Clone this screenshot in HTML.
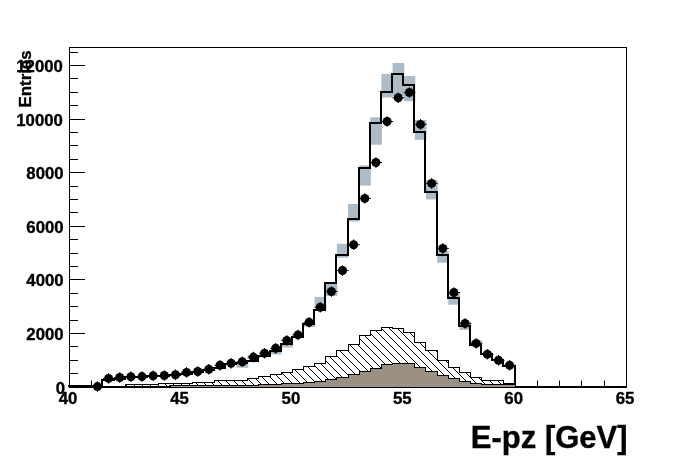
<!DOCTYPE html>
<html><head><meta charset="utf-8"><title>E-pz</title>
<style>
html,body{margin:0;padding:0;background:#fff;}
body{width:696px;height:472px;overflow:hidden;}
svg{display:block;}
text{font-family:"Liberation Sans",Arial,Helvetica,sans-serif;font-weight:bold;fill:#000;stroke:#000;stroke-width:0.35px;}
</style></head><body>
<svg width="696" height="472" viewBox="0 0 696 472">
<defs>
<pattern id="hatch" x="5" y="0" width="8" height="8" patternUnits="userSpaceOnUse">
<path d="M-1 -1 L9 9 M-9 -1 L1 9 M7 -1 L17 9" stroke="#000" stroke-width="1" fill="none" shape-rendering="crispEdges"/>
</pattern>
</defs>
<rect x="0" y="0" width="696" height="472" fill="#fff"/>

<rect x="69.5" y="47.5" width="557" height="339" fill="none" stroke="#000" stroke-width="1"/>
<path d="M69.5 387.50 H85.00 M69.5 373.50 H78.00 M69.5 360.50 H78.00 M69.5 346.50 H78.00 M69.5 333.50 H85.00 M69.5 320.50 H78.00 M69.5 306.50 H78.00 M69.5 293.50 H78.00 M69.5 279.50 H85.00 M69.5 266.50 H78.00 M69.5 253.50 H78.00 M69.5 239.50 H78.00 M69.5 226.50 H85.00 M69.5 212.50 H78.00 M69.5 199.50 H78.00 M69.5 186.50 H78.00 M69.5 172.50 H85.00 M69.5 159.50 H78.00 M69.5 145.50 H78.00 M69.5 132.50 H78.00 M69.5 119.50 H85.00 M69.5 105.50 H78.00 M69.5 92.50 H78.00 M69.5 78.50 H78.00 M69.5 65.50 H85.00 M69.5 52.50 H78.00" stroke="#000" stroke-width="1" fill="none"/>
<path d="M91.5 386.5 V380.5 M537.5 386.5 V380.5 M559.5 386.5 V380.5 M581.5 386.5 V380.5 M604.5 386.5 V380.5" stroke="#000" stroke-width="1" fill="none"/>
<rect x="236.60" y="363.00" width="11.64" height="4.75" fill="#aebcc7"/>
<rect x="247.74" y="355.00" width="11.64" height="4.00" fill="#aebcc7"/>
<rect x="270.02" y="351.00" width="11.64" height="3.50" fill="#aebcc7"/>
<rect x="281.16" y="344.00" width="11.64" height="3.50" fill="#aebcc7"/>
<rect x="303.44" y="324.00" width="11.64" height="3.00" fill="#aebcc7"/>
<rect x="314.58" y="297.00" width="11.64" height="13.00" fill="#aebcc7"/>
<rect x="325.72" y="283.75" width="11.64" height="12.25" fill="#aebcc7"/>
<rect x="336.86" y="243.75" width="11.64" height="14.00" fill="#aebcc7"/>
<rect x="348.00" y="204.00" width="11.64" height="17.50" fill="#aebcc7"/>
<rect x="359.14" y="165.40" width="11.64" height="20.20" fill="#aebcc7"/>
<rect x="370.28" y="117.25" width="11.64" height="27.50" fill="#aebcc7"/>
<rect x="381.42" y="74.00" width="11.64" height="23.50" fill="#aebcc7"/>
<rect x="392.56" y="63.00" width="11.64" height="33.00" fill="#aebcc7"/>
<rect x="403.70" y="76.00" width="11.64" height="25.25" fill="#aebcc7"/>
<rect x="414.84" y="120.00" width="11.64" height="19.75" fill="#aebcc7"/>
<rect x="425.98" y="180.00" width="11.64" height="19.40" fill="#aebcc7"/>
<rect x="437.12" y="251.00" width="11.64" height="11.75" fill="#aebcc7"/>
<rect x="448.26" y="293.00" width="11.64" height="11.75" fill="#aebcc7"/>
<rect x="459.40" y="322.00" width="11.64" height="8.00" fill="#aebcc7"/>
<rect x="470.54" y="340.60" width="11.64" height="5.40" fill="#aebcc7"/>
<path d="M69.00 387.00 L69.00 386.00 L80.00 386.00 L80.00 386.00 L91.00 386.00 L91.00 386.00 L102.00 386.00 L102.00 380.00 L114.00 380.00 L114.00 379.00 L125.00 379.00 L125.00 377.00 L136.00 377.00 L136.00 377.00 L147.00 377.00 L147.00 376.00 L158.00 376.00 L158.00 376.00 L169.00 376.00 L169.00 375.00 L180.00 375.00 L180.00 374.00 L192.00 374.00 L192.00 372.00 L203.00 372.00 L203.00 370.00 L214.00 370.00 L214.00 368.00 L225.00 368.00 L225.00 364.00 L236.00 364.00 L236.00 363.00 L247.00 363.00 L247.00 361.00 L258.00 361.00 L258.00 356.00 L270.00 356.00 L270.00 351.00 L281.00 351.00 L281.00 344.00 L292.00 344.00 L292.00 337.00 L303.00 337.00 L303.00 324.00 L314.00 324.00 L314.00 310.00 L325.00 310.00 L325.00 283.00 L336.00 283.00 L336.00 255.00 L348.00 255.00 L348.00 219.00 L359.00 219.00 L359.00 168.00 L370.00 168.00 L370.00 123.00 L381.00 123.00 L381.00 92.00 L392.00 92.00 L392.00 74.00 L403.00 74.00 L403.00 85.00 L414.00 85.00 L414.00 132.00 L425.00 132.00 L425.00 192.00 L437.00 192.00 L437.00 255.00 L448.00 255.00 L448.00 298.00 L459.00 298.00 L459.00 326.00 L470.00 326.00 L470.00 345.00 L481.00 345.00 L481.00 354.00 L492.00 354.00 L492.00 360.00 L503.00 360.00 L503.00 366.00 L515.00 366.00 L515.00 387.00" fill="none" stroke="#000" stroke-width="2" stroke-linejoin="miter" shape-rendering="crispEdges"/>
<path d="M125.5 386.5 L125.5 384.5 L136.5 384.5 L136.5 384.5 L147.5 384.5 L147.5 384.5 L158.5 384.5 L158.5 383.5 L169.5 383.5 L169.5 383.5 L180.5 383.5 L180.5 383.5 L192.5 383.5 L192.5 382.5 L203.5 382.5 L203.5 382.5 L214.5 382.5 L214.5 380.5 L225.5 380.5 L225.5 380.5 L236.5 380.5 L236.5 380.5 L247.5 380.5 L247.5 378.5 L258.5 378.5 L258.5 376.5 L270.5 376.5 L270.5 374.5 L281.5 374.5 L281.5 372.5 L292.5 372.5 L292.5 369.5 L303.5 369.5 L303.5 366.5 L314.5 366.5 L314.5 363.5 L325.5 363.5 L325.5 356.5 L336.5 356.5 L336.5 350.5 L348.5 350.5 L348.5 344.5 L359.5 344.5 L359.5 335.5 L370.5 335.5 L370.5 330.5 L381.5 330.5 L381.5 327.5 L392.5 327.5 L392.5 328.5 L403.5 328.5 L403.5 332.5 L414.5 332.5 L414.5 342.5 L425.5 342.5 L425.5 350.5 L437.5 350.5 L437.5 360.5 L448.5 360.5 L448.5 367.5 L459.5 367.5 L459.5 372.5 L470.5 372.5 L470.5 377.5 L481.5 377.5 L481.5 380.5 L492.5 380.5 L492.5 380.5 L503.5 380.5 L503.5 383.5 L515.5 383.5 L515.5 386.5 Z" fill="#fff" stroke="none"/>
<path d="M125.5 386.5 L125.5 384.5 L136.5 384.5 L136.5 384.5 L147.5 384.5 L147.5 384.5 L158.5 384.5 L158.5 383.5 L169.5 383.5 L169.5 383.5 L180.5 383.5 L180.5 383.5 L192.5 383.5 L192.5 382.5 L203.5 382.5 L203.5 382.5 L214.5 382.5 L214.5 380.5 L225.5 380.5 L225.5 380.5 L236.5 380.5 L236.5 380.5 L247.5 380.5 L247.5 378.5 L258.5 378.5 L258.5 376.5 L270.5 376.5 L270.5 374.5 L281.5 374.5 L281.5 372.5 L292.5 372.5 L292.5 369.5 L303.5 369.5 L303.5 366.5 L314.5 366.5 L314.5 363.5 L325.5 363.5 L325.5 356.5 L336.5 356.5 L336.5 350.5 L348.5 350.5 L348.5 344.5 L359.5 344.5 L359.5 335.5 L370.5 335.5 L370.5 330.5 L381.5 330.5 L381.5 327.5 L392.5 327.5 L392.5 328.5 L403.5 328.5 L403.5 332.5 L414.5 332.5 L414.5 342.5 L425.5 342.5 L425.5 350.5 L437.5 350.5 L437.5 360.5 L448.5 360.5 L448.5 367.5 L459.5 367.5 L459.5 372.5 L470.5 372.5 L470.5 377.5 L481.5 377.5 L481.5 380.5 L492.5 380.5 L492.5 380.5 L503.5 380.5 L503.5 383.5 L515.5 383.5 L515.5 386.5 Z" fill="url(#hatch)" stroke="#000" stroke-width="1" shape-rendering="crispEdges"/>
<path d="M169.5 387.0 L169.5 385.5 L180.5 385.5 L180.5 385.5 L192.5 385.5 L192.5 385.5 L203.5 385.5 L203.5 385.5 L214.5 385.5 L214.5 385.5 L225.5 385.5 L225.5 385.5 L236.5 385.5 L236.5 385.5 L247.5 385.5 L247.5 385.5 L258.5 385.5 L258.5 384.5 L270.5 384.5 L270.5 384.5 L281.5 384.5 L281.5 383.5 L292.5 383.5 L292.5 383.5 L303.5 383.5 L303.5 382.5 L314.5 382.5 L314.5 381.5 L325.5 381.5 L325.5 379.5 L336.5 379.5 L336.5 377.5 L348.5 377.5 L348.5 374.5 L359.5 374.5 L359.5 371.5 L370.5 371.5 L370.5 368.5 L381.5 368.5 L381.5 364.5 L392.5 364.5 L392.5 363.5 L403.5 363.5 L403.5 363.5 L414.5 363.5 L414.5 367.5 L425.5 367.5 L425.5 371.5 L437.5 371.5 L437.5 375.5 L448.5 375.5 L448.5 378.5 L459.5 378.5 L459.5 381.5 L470.5 381.5 L470.5 383.5 L481.5 383.5 L481.5 384.5 L492.5 384.5 L492.5 384.5 L503.5 384.5 L503.5 384.5 L515.5 384.5 L515.5 387.0 Z" fill="#9b9084" stroke="none"/>
<path d="M169.5 387.0 L169.5 385.5 L180.5 385.5 L180.5 385.5 L192.5 385.5 L192.5 385.5 L203.5 385.5 L203.5 385.5 L214.5 385.5 L214.5 385.5 L225.5 385.5 L225.5 385.5 L236.5 385.5 L236.5 385.5 L247.5 385.5 L247.5 385.5 L258.5 385.5 L258.5 384.5 L270.5 384.5 L270.5 384.5 L281.5 384.5 L281.5 383.5 L292.5 383.5 L292.5 383.5 L303.5 383.5 L303.5 382.5 L314.5 382.5 L314.5 381.5 L325.5 381.5 L325.5 379.5 L336.5 379.5 L336.5 377.5 L348.5 377.5 L348.5 374.5 L359.5 374.5 L359.5 371.5 L370.5 371.5 L370.5 368.5 L381.5 368.5 L381.5 364.5 L392.5 364.5 L392.5 363.5 L403.5 363.5 L403.5 363.5 L414.5 363.5 L414.5 367.5 L425.5 367.5 L425.5 371.5 L437.5 371.5 L437.5 375.5 L448.5 375.5 L448.5 378.5 L459.5 378.5 L459.5 381.5 L470.5 381.5 L470.5 383.5 L481.5 383.5 L481.5 384.5 L492.5 384.5 L492.5 384.5 L503.5 384.5 L503.5 384.5 L515.5 384.5 L515.5 387.0" fill="none" stroke="#000" stroke-width="1" shape-rendering="crispEdges"/>
<rect x="69" y="387" width="558" height="1" fill="#000"/>
<rect x="69" y="386" width="102" height="1" fill="#000"/>
<rect x="515" y="386" width="112" height="1" fill="#000"/>
<path d="M91.88 386.60 H103.52" stroke="#000" stroke-width="1"/>
<path d="M97.45 381.30 V391.90" stroke="#000" stroke-width="1"/>
<circle cx="97.45" cy="386.60" r="4.5" fill="#000"/>
<path d="M103.02 378.40 H114.66" stroke="#000" stroke-width="1"/>
<path d="M108.59 373.10 V383.70" stroke="#000" stroke-width="1"/>
<circle cx="108.59" cy="378.40" r="4.5" fill="#000"/>
<path d="M114.16 377.55 H125.80" stroke="#000" stroke-width="1"/>
<path d="M119.73 372.25 V382.85" stroke="#000" stroke-width="1"/>
<circle cx="119.73" cy="377.55" r="4.5" fill="#000"/>
<path d="M125.30 376.70 H136.94" stroke="#000" stroke-width="1"/>
<path d="M130.87 371.40 V382.00" stroke="#000" stroke-width="1"/>
<circle cx="130.87" cy="376.70" r="4.5" fill="#000"/>
<path d="M136.44 376.60 H148.08" stroke="#000" stroke-width="1"/>
<path d="M142.01 371.30 V381.90" stroke="#000" stroke-width="1"/>
<circle cx="142.01" cy="376.60" r="4.5" fill="#000"/>
<path d="M147.58 375.70 H159.22" stroke="#000" stroke-width="1"/>
<path d="M153.15 370.40 V381.00" stroke="#000" stroke-width="1"/>
<circle cx="153.15" cy="375.70" r="4.5" fill="#000"/>
<path d="M158.72 375.50 H170.36" stroke="#000" stroke-width="1"/>
<path d="M164.29 370.20 V380.80" stroke="#000" stroke-width="1"/>
<circle cx="164.29" cy="375.50" r="4.5" fill="#000"/>
<path d="M169.86 374.70 H181.50" stroke="#000" stroke-width="1"/>
<path d="M175.43 369.40 V380.00" stroke="#000" stroke-width="1"/>
<circle cx="175.43" cy="374.70" r="4.5" fill="#000"/>
<path d="M181.00 372.40 H192.64" stroke="#000" stroke-width="1"/>
<path d="M186.57 367.10 V377.70" stroke="#000" stroke-width="1"/>
<circle cx="186.57" cy="372.40" r="4.5" fill="#000"/>
<path d="M192.14 371.50 H203.78" stroke="#000" stroke-width="1"/>
<path d="M197.71 366.20 V376.80" stroke="#000" stroke-width="1"/>
<circle cx="197.71" cy="371.50" r="4.5" fill="#000"/>
<path d="M203.28 369.30 H214.92" stroke="#000" stroke-width="1"/>
<path d="M208.85 364.00 V374.60" stroke="#000" stroke-width="1"/>
<circle cx="208.85" cy="369.30" r="4.5" fill="#000"/>
<path d="M214.42 365.30 H226.06" stroke="#000" stroke-width="1"/>
<path d="M219.99 360.00 V370.60" stroke="#000" stroke-width="1"/>
<circle cx="219.99" cy="365.30" r="4.5" fill="#000"/>
<path d="M225.56 363.30 H237.20" stroke="#000" stroke-width="1"/>
<path d="M231.13 358.00 V368.60" stroke="#000" stroke-width="1"/>
<circle cx="231.13" cy="363.30" r="4.5" fill="#000"/>
<path d="M236.70 361.80 H248.34" stroke="#000" stroke-width="1"/>
<path d="M242.27 356.50 V367.10" stroke="#000" stroke-width="1"/>
<circle cx="242.27" cy="361.80" r="4.5" fill="#000"/>
<path d="M247.84 357.10 H259.48" stroke="#000" stroke-width="1"/>
<path d="M253.41 351.80 V362.40" stroke="#000" stroke-width="1"/>
<circle cx="253.41" cy="357.10" r="4.5" fill="#000"/>
<path d="M258.98 353.30 H270.62" stroke="#000" stroke-width="1"/>
<path d="M264.55 348.00 V358.60" stroke="#000" stroke-width="1"/>
<circle cx="264.55" cy="353.30" r="4.5" fill="#000"/>
<path d="M270.12 348.30 H281.76" stroke="#000" stroke-width="1"/>
<path d="M275.69 343.00 V353.60" stroke="#000" stroke-width="1"/>
<circle cx="275.69" cy="348.30" r="4.5" fill="#000"/>
<path d="M281.26 340.40 H292.90" stroke="#000" stroke-width="1"/>
<path d="M286.83 335.10 V345.70" stroke="#000" stroke-width="1"/>
<circle cx="286.83" cy="340.40" r="4.5" fill="#000"/>
<path d="M292.40 334.90 H304.04" stroke="#000" stroke-width="1"/>
<path d="M297.97 329.60 V340.20" stroke="#000" stroke-width="1"/>
<circle cx="297.97" cy="334.90" r="4.5" fill="#000"/>
<path d="M303.54 322.30 H315.18" stroke="#000" stroke-width="1"/>
<path d="M309.11 317.00 V327.60" stroke="#000" stroke-width="1"/>
<circle cx="309.11" cy="322.30" r="4.5" fill="#000"/>
<path d="M314.68 307.20 H326.32" stroke="#000" stroke-width="1"/>
<path d="M320.25 301.90 V312.50" stroke="#000" stroke-width="1"/>
<circle cx="320.25" cy="307.20" r="4.5" fill="#000"/>
<path d="M325.82 291.55 H337.46" stroke="#000" stroke-width="1"/>
<path d="M331.39 286.25 V296.85" stroke="#000" stroke-width="1"/>
<circle cx="331.39" cy="291.55" r="4.5" fill="#000"/>
<path d="M336.96 270.55 H348.60" stroke="#000" stroke-width="1"/>
<path d="M342.53 265.25 V275.85" stroke="#000" stroke-width="1"/>
<circle cx="342.53" cy="270.55" r="4.5" fill="#000"/>
<path d="M348.10 244.70 H359.74" stroke="#000" stroke-width="1"/>
<path d="M353.67 239.40 V250.00" stroke="#000" stroke-width="1"/>
<circle cx="353.67" cy="244.70" r="4.5" fill="#000"/>
<path d="M359.24 198.40 H370.88" stroke="#000" stroke-width="1"/>
<path d="M364.81 193.10 V203.70" stroke="#000" stroke-width="1"/>
<circle cx="364.81" cy="198.40" r="4.5" fill="#000"/>
<path d="M370.38 162.55 H382.02" stroke="#000" stroke-width="1"/>
<path d="M375.95 157.25 V167.85" stroke="#000" stroke-width="1"/>
<circle cx="375.95" cy="162.55" r="4.5" fill="#000"/>
<path d="M381.52 121.55 H393.16" stroke="#000" stroke-width="1"/>
<path d="M387.09 116.25 V126.85" stroke="#000" stroke-width="1"/>
<circle cx="387.09" cy="121.55" r="4.5" fill="#000"/>
<path d="M392.66 97.80 H404.30" stroke="#000" stroke-width="1"/>
<path d="M398.23 92.50 V103.10" stroke="#000" stroke-width="1"/>
<circle cx="398.23" cy="97.80" r="4.5" fill="#000"/>
<path d="M403.80 92.55 H415.44" stroke="#000" stroke-width="1"/>
<path d="M409.37 87.25 V97.85" stroke="#000" stroke-width="1"/>
<circle cx="409.37" cy="92.55" r="4.5" fill="#000"/>
<path d="M414.94 124.40 H426.58" stroke="#000" stroke-width="1"/>
<path d="M420.51 119.10 V129.70" stroke="#000" stroke-width="1"/>
<circle cx="420.51" cy="124.40" r="4.5" fill="#000"/>
<path d="M426.08 183.40 H437.72" stroke="#000" stroke-width="1"/>
<path d="M431.65 178.10 V188.70" stroke="#000" stroke-width="1"/>
<circle cx="431.65" cy="183.40" r="4.5" fill="#000"/>
<path d="M437.22 248.40 H448.86" stroke="#000" stroke-width="1"/>
<path d="M442.79 243.10 V253.70" stroke="#000" stroke-width="1"/>
<circle cx="442.79" cy="248.40" r="4.5" fill="#000"/>
<path d="M448.36 292.55 H460.00" stroke="#000" stroke-width="1"/>
<path d="M453.93 287.25 V297.85" stroke="#000" stroke-width="1"/>
<circle cx="453.93" cy="292.55" r="4.5" fill="#000"/>
<path d="M459.50 323.40 H471.14" stroke="#000" stroke-width="1"/>
<path d="M465.07 318.10 V328.70" stroke="#000" stroke-width="1"/>
<circle cx="465.07" cy="323.40" r="4.5" fill="#000"/>
<path d="M470.64 343.40 H482.28" stroke="#000" stroke-width="1"/>
<path d="M476.21 338.10 V348.70" stroke="#000" stroke-width="1"/>
<circle cx="476.21" cy="343.40" r="4.5" fill="#000"/>
<path d="M481.78 354.30 H493.42" stroke="#000" stroke-width="1"/>
<path d="M487.35 349.00 V359.60" stroke="#000" stroke-width="1"/>
<circle cx="487.35" cy="354.30" r="4.5" fill="#000"/>
<path d="M492.92 360.30 H504.56" stroke="#000" stroke-width="1"/>
<path d="M498.49 355.00 V365.60" stroke="#000" stroke-width="1"/>
<circle cx="498.49" cy="360.30" r="4.5" fill="#000"/>
<path d="M504.06 365.30 H515.70" stroke="#000" stroke-width="1"/>
<path d="M509.63 360.00 V370.60" stroke="#000" stroke-width="1"/>
<circle cx="509.63" cy="365.30" r="4.5" fill="#000"/>
<text x="62.9" y="72.05" font-size="16.8" text-anchor="end">12000</text>
<text x="62.9" y="126.05" font-size="16.8" text-anchor="end">10000</text>
<text x="63.7" y="179.05" font-size="16.8" text-anchor="end">8000</text>
<text x="63.7" y="233.05" font-size="16.8" text-anchor="end">6000</text>
<text x="63.7" y="286.05" font-size="16.8" text-anchor="end">4000</text>
<text x="63.7" y="340.05" font-size="16.8" text-anchor="end">2000</text>
<text x="65.0" y="393.7" font-size="16.8" text-anchor="end">0</text>
<text x="68.1" y="403.6" font-size="16.8" text-anchor="middle">40</text>
<text x="179.5" y="403.6" font-size="16.8" text-anchor="middle">45</text>
<text x="290.9" y="403.6" font-size="16.8" text-anchor="middle">50</text>
<text x="402.3" y="403.6" font-size="16.8" text-anchor="middle">55</text>
<text x="513.7" y="403.6" font-size="16.8" text-anchor="middle">60</text>
<text x="625.1" y="403.6" font-size="16.8" text-anchor="middle">65</text>
<text x="627.6" y="447.5" font-size="31" text-anchor="end">E-pz [GeV]</text>
<text transform="translate(31.3 50.5) rotate(-90)" font-size="16.8" text-anchor="end">Entries</text>
</svg></body></html>
